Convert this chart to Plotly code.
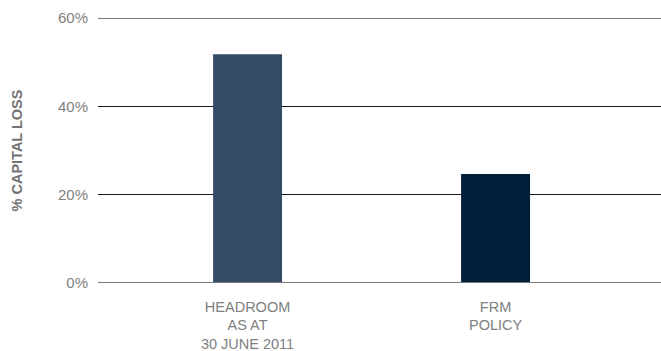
import plotly.graph_objects as go

# Capital loss headroom versus policy limit
categories = ["HEADROOM<br>AS AT<br>30 JUNE 2011", "FRM<br>POLICY"]
capital_loss_pct = [51.8, 24.7]
bar_colors = ["#344b66", "#031e38"]
y_ticks = [0, 20, 40, 60]
y_tick_labels = ["0%", "20%", "40%", "60%"]
y_min, y_max = 0, 60

fig = go.Figure(
    go.Bar(
        x=categories,
        y=capital_loss_pct,
        marker=dict(color=bar_colors, line=dict(width=0)),
        width=0.278,
        hoverinfo="skip",
    )
)

font_family = "Liberation Sans, Arial, Helvetica, sans-serif"
label_grey = "#808080"

# grey frame lines at the bottom and top of the value range
for yv in (y_min, y_max):
    fig.add_shape(
        type="line",
        xref="paper", x0=0, x1=1,
        yref="y", y0=yv, y1=yv,
        line=dict(color="#7a7a7a", width=2),
        layer="above",
    )

fig.update_layout(
    width=661,
    height=351,
    margin=dict(l=98, r=0, t=18, b=68),
    paper_bgcolor="white",
    plot_bgcolor="white",
    showlegend=False,
    font=dict(family=font_family, size=15, color=label_grey),
    xaxis=dict(
        type="category",
        range=[-0.603, 1.667],
        showgrid=False,
        showline=False,
        ticks="",
        tickfont=dict(size=14.5, color=label_grey),
        ticklabelstandoff=13,
        fixedrange=True,
    ),
    yaxis=dict(
        range=[y_min, y_max],
        tickvals=y_ticks,
        ticktext=y_tick_labels,
        showgrid=True,
        gridcolor="#1a1a1a",
        gridwidth=1,
        zeroline=False,
        showline=False,
        ticks="",
        ticklabelstandoff=9,
        tickfont=dict(size=15, color=label_grey),
        title=dict(
            text="<b>% CAPITAL LOSS</b>",
            font=dict(size=14.5, color="#737373"),
            standoff=31,
        ),
        fixedrange=True,
    ),
)

fig.write_html("out.html")
